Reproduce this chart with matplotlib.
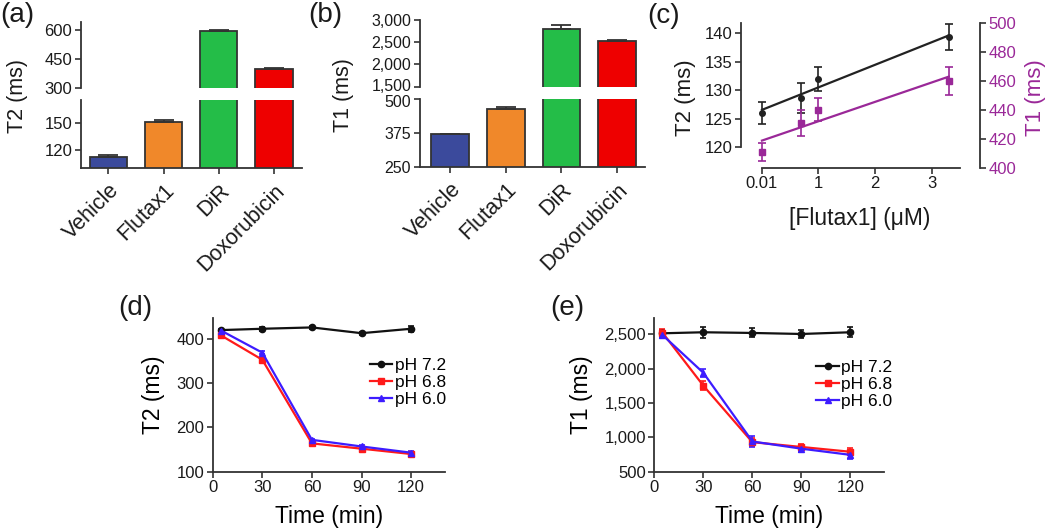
import numpy as np
import matplotlib
matplotlib.use('Agg')
import matplotlib.pyplot as plt
from matplotlib.lines import Line2D
from matplotlib.ticker import FuncFormatter
from matplotlib.transforms import ScaledTranslation

plt.rcParams['font.family'] = ['Liberation Sans', 'DejaVu Sans']

# --- data ---
groups = ['Vehicle', 'Flutax1', 'DiR', 'Doxorubicin']
bar_colors = ['#3b4a9c', '#f0882a', '#24bd48', '#ee0000']

# (a) T2 per agent, (b) T1 per agent
t2_bars = [112, 150.5, 593, 396]
t2_bars_err = [2.5, 2.5, 5, 4]
t1_bars = [371, 464, 2797, 2527]
t1_bars_err = [2, 7, 90, 25]

# (c) concentration series
conc = [0.01, 0.7, 1, 3.3]
conc_t2 = [126.0, 128.7, 132.0, 139.3]
conc_t2_err = [2.0, 2.6, 2.1, 2.3]
conc_t1 = [410.8, 431.0, 440.2, 460.0]
conc_t1_err = [6.2, 9.0, 8.2, 10.0]

# (d), (e) time course at three pH values
time_min = [5, 30, 60, 90, 120]
ph_labels = ['pH 7.2', 'pH 6.8', 'pH 6.0']
t2_ph72 = [420, 423, 426, 413, 423]
t2_ph72_err = [3, 5, 3, 3, 7]
t2_ph68 = [408, 353, 164, 152, 140]
t2_ph68_err = [3, 4, 3, 3, 3]
t2_ph60 = [419, 369, 172, 157, 143]
t2_ph60_err = [3, 3, 3, 3, 3]
t1_ph72 = [2515, 2530, 2520, 2505, 2530]
t1_ph72_err = [50, 80, 65, 65, 70]
t1_ph68 = [2525, 1752, 930, 860, 790]
t1_ph68_err = [50, 65, 60, 40, 50]
t1_ph60 = [2490, 1940, 940, 835, 745]
t1_ph60_err = [40, 55, 75, 50, 60]

DARK = '#333333'
TXT = '#1a1a1a'
PURPLE = '#9a2898'
ph_colors = ['#111111', '#ff1a1a', '#3d1cff']
ph_markers = ['o', 's', '^']

W, H = 1050, 528
fig = plt.figure(figsize=(W / 100, H / 100), dpi=100)


def px_axes(l, t, r, b):
    # box in pixels measured from the top-left corner
    return fig.add_axes([l / W, 1 - b / H, (r - l) / W, (b - t) / H])


def ftext(x, y, s, color=TXT, **kw):
    fig.text(x / W, 1 - y / H, s, color=color, **kw)


def style(ax, hide=('top', 'right'), size=12):
    for side in ('top', 'right', 'left', 'bottom'):
        ax.spines[side].set_color(DARK)
        ax.spines[side].set_linewidth(1.3)
    for side in hide:
        ax.spines[side].set_visible(False)
    ax.tick_params(colors=DARK, labelcolor=TXT, width=1.2, length=4,
                   labelsize=size, pad=2)


def nudge(label, dy_px):
    # shift one tick label vertically by a few pixels
    label.set_transform(label.get_transform() +
                        ScaledTranslation(0, dy_px / 100, fig.dpi_scale_trans))


comma = FuncFormatter(lambda v, p: f'{v:,.0f}')


def bar_panel(top_box, bot_box, vals, errs, top_lim, bot_lim,
              top_ticks, bot_ticks, x_left, size):
    ax_t = px_axes(*top_box)
    ax_b = px_axes(*bot_box)
    xs = np.arange(len(groups))
    for ax in (ax_t, ax_b):
        ax.bar(xs, vals, width=0.675, color=bar_colors, edgecolor=DARK,
               linewidth=1.3)
        ax.errorbar(xs, vals, yerr=[np.zeros(len(vals)), errs], fmt='none',
                    ecolor=DARK, elinewidth=1.3, capsize=7, capthick=1.3)
        ax.set_xlim(x_left, 3.5)
        style(ax, size=size)
    ax_t.set_ylim(*top_lim)
    ax_b.set_ylim(*bot_lim)
    ax_t.set_yticks(top_ticks)
    ax_b.set_yticks(bot_ticks)
    ax_t.yaxis.set_major_formatter(comma)
    ax_b.yaxis.set_major_formatter(comma)
    ax_t.spines['bottom'].set_visible(False)
    ax_t.tick_params(axis='x', bottom=False, labelbottom=False)
    ax_b.set_xticks(xs)
    ax_b.set_xticklabels(groups, rotation=45, ha='right',
                         rotation_mode='anchor', fontsize=15.5)
    ax_b.tick_params(axis='x', pad=5)
    return ax_t, ax_b


# (a)
bar_panel((80.7, 22, 301.7, 87.5), (80.7, 100, 301.7, 167.7),
          t2_bars, t2_bars_err, (300, 640), (100.5, 175),
          [300, 450, 600], [120, 150], -0.5, 12)
ftext(17, 96, 'T2 (ms)', rotation=90, ha='center', va='center', fontsize=15.5)
ftext(0, 15, '(a)', ha='left', va='center', fontsize=20)

# (b)
ax_bt, ax_bb = bar_panel((419.5, 20, 645, 86.7), (419.5, 99.3, 645, 166.7),
                         t1_bars, t1_bars_err, (1500, 3000), (250, 500),
                         [1500, 2000, 2500, 3000], [250, 375, 500], -0.55,
                         11.5)
# the two labels at the break sit very close together
nudge(ax_bt.get_yticklabels()[0], 2)
nudge(ax_bb.get_yticklabels()[-1], -2)
ftext(344, 95, 'T1 (ms)', rotation=90, ha='center', va='center', fontsize=15.5)
ftext(308, 15, '(b)', ha='left', va='center', fontsize=20)

# (c)
ax_c = px_axes(740.7, 22.7, 980, 167.7)
ax_c2 = ax_c.twinx()
fit_x = np.array([conc[0], conc[-1]])
k2 = np.polyfit(conc, conc_t2, 1)
k1 = np.polyfit(conc, conc_t1, 1)
ax_c.plot(fit_x, np.polyval(k2, fit_x), color='#222222', lw=1.6)
ax_c.errorbar(conc, conc_t2, yerr=conc_t2_err, fmt='o', color='#222222',
              ms=4, elinewidth=1.2, capsize=2.6, capthick=1.2)
ax_c2.plot(fit_x, np.polyval(k1, fit_x), color=PURPLE, lw=1.6)
ax_c2.errorbar(conc, conc_t1, yerr=conc_t1_err, fmt='s', color=PURPLE,
               ms=4, elinewidth=1.2, capsize=2.6, capthick=1.2)
style(ax_c)
style(ax_c2, hide=('top', 'left', 'bottom'))
ax_c.set_xlim(-0.365, 3.85)
ax_c.set_ylim(116.42, 141.86)
ax_c.spines['left'].set_bounds(120, 141.86)
ax_c.spines['bottom'].set_bounds(0.01, 3.5)
ax_c.set_xticks([0.01, 1, 2, 3])
ax_c.set_xticklabels(['0.01', '1', '2', '3'])
ax_c.set_yticks([120, 125, 130, 135, 140])
ax_c2.set_ylim(400, 500.4)
ax_c2.set_yticks([400, 420, 440, 460, 480, 500])
ax_c2.tick_params(axis='y', labelcolor=PURPLE)
ftext(685, 98, 'T2 (ms)', rotation=90, ha='center', va='center', fontsize=16)
ftext(1036, 98, 'T1 (ms)', color=PURPLE, rotation=90, ha='center',
      va='center', fontsize=16)
ftext(860, 219, '[Flutax1] (μM)', ha='center', va='center', fontsize=16.5)
ftext(647, 16, '(c)', ha='left', va='center', fontsize=20)


def time_panel(box, series, errs, ylim, yticks, ylabel, leg_anchor):
    ax = px_axes(*box)
    handles = []
    for vals, err, col, mk, lab in zip(series, errs, ph_colors, ph_markers,
                                       ph_labels):
        ax.errorbar(time_min, vals, yerr=err, color=col, marker=mk, ms=4.5,
                    lw=1.6, elinewidth=1.2, capsize=2.5, capthick=1.2)
        handles.append(Line2D([], [], color=col, marker=mk, ms=4.5, lw=1.6,
                              label=lab))
    style(ax)
    ax.set_xlim(0, 140.5)
    ax.set_ylim(*ylim)
    ax.set_xticks([0, 30, 60, 90, 120])
    ax.set_yticks(yticks)
    ax.yaxis.set_major_formatter(comma)
    ax.set_xlabel('Time (min)', fontsize=16.5, labelpad=7)
    ax.set_ylabel(ylabel, fontsize=16.5, labelpad=8)
    ax.legend(handles=handles, loc='center left', bbox_to_anchor=leg_anchor,
              frameon=False, fontsize=12.5, handlelength=1.3,
              handletextpad=0.15, labelspacing=0.1, borderpad=0,
              borderaxespad=0)
    return ax


# (d)
ax_d = time_panel((212.7, 317.7, 445, 471.7), [t2_ph72, t2_ph68, t2_ph60],
                  [t2_ph72_err, t2_ph68_err, t2_ph60_err], (100, 448),
                  [100, 200, 300, 400], 'T2 (ms)', (0.675, 0.58))
ftext(118, 308, '(d)', ha='left', va='center', fontsize=20)

# (e)
ax_e = time_panel((654.3, 317.7, 884, 471.7), [t1_ph72, t1_ph68, t1_ph60],
                  [t1_ph72_err, t1_ph68_err, t1_ph60_err], (500, 2742),
                  [500, 1000, 1500, 2000, 2500], 'T1 (ms)', (0.705, 0.567))
ftext(550, 308, '(e)', ha='left', va='center', fontsize=20)

fig.savefig('out.png', dpi=100)
